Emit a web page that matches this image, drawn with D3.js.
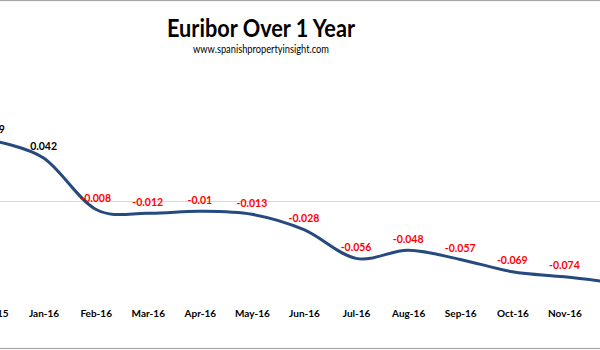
<!DOCTYPE html>
<html>
<head>
<meta charset="utf-8">
<script src="https://cdn.jsdelivr.net/npm/d3@7"></script>
<style>
  html, body { margin: 0; padding: 0; background: #fff; overflow: hidden; }
  svg { display: block; }
  text { font-family: Lato, "Open Sans", sans-serif; }
</style>
</head>
<body>
<svg id="chart" width="600" height="350"></svg>
<script>
const months = ["Dec-15","Jan-16","Feb-16","Mar-16","Apr-16","May-16","Jun-16","Jul-16","Aug-16","Sep-16","Oct-16","Nov-16","Dec-16"];
const euribor = [0.059, 0.042, -0.008, -0.012, -0.010, -0.013, -0.028, -0.056, -0.048, -0.057, -0.069, -0.074, -0.080];
const labels = ["0.059","0.042","-0.008","-0.012","-0.01","-0.013","-0.028","-0.056","-0.048","-0.057","-0.069","-0.074","-0.08"];
const title = "Euribor Over 1 Year";
const subtitle = "www.spanishpropertyinsight.com";

const W = 600, H = 350;
const svg = d3.select("#chart");

// chart border (wider than the visible window)
svg.append("rect").attr("x", -40).attr("y", 0.5).attr("width", W + 80).attr("height", H - 2)
  .attr("fill", "#fff").attr("stroke", "#a6a6a6").attr("stroke-width", 1.2);

const x = d3.scalePoint().domain(months).range([-8.5, 616.5]);
const y = d3.scaleLinear().domain([0, 0.1]).range([201, 201 - 102.5]);

// zero line
svg.append("line").attr("x1", -40).attr("x2", W + 40)
  .attr("y1", y(0) + 0.5).attr("y2", y(0) + 0.5)
  .attr("stroke", "#d9d9d9").attr("stroke-width", 1);

// category axis labels
const xAxis = d3.axisBottom(x).tickSize(0).tickPadding(0);
const gx = svg.append("g").attr("transform", "translate(0,310)").call(xAxis);
gx.select(".domain").remove();
gx.selectAll("text")
  .attr("dy", "0.71em")
  .style("font-family", "Lato, sans-serif")
  .style("font-size", "10px").style("font-weight", "bold").attr("fill", "#000");

// line
const line = d3.line()
  .x((d, i) => x(months[i]))
  .y(d => y(d))
  .curve(d3.curveCardinal.tension(0));
svg.append("path").datum(euribor)
  .attr("d", line).attr("fill", "none")
  .attr("stroke", "#264a7e").attr("stroke-width", 3).attr("stroke-linecap", "round");

// data labels
svg.append("g").selectAll("text").data(euribor).join("text")
  .attr("x", (d, i) => x(months[i]))
  .attr("y", d => y(d) - 7.5)
  .attr("text-anchor", "middle")
  .style("font-size", "10.5px").style("font-weight", "bold")
  .attr("fill", d => d < 0 ? "#ff0000" : "#000")
  .text((d, i) => labels[i]);

// titles
svg.append("text").attr("x", 261).attr("y", 37).attr("text-anchor", "middle")
  .attr("textLength", 188).attr("lengthAdjust", "spacingAndGlyphs")
  .style("font-size", "25px").style("font-weight", "bold").attr("fill", "#000").text(title);
svg.append("text").attr("x", 261).attr("y", 53).attr("text-anchor", "middle")
  .attr("textLength", 136).attr("lengthAdjust", "spacingAndGlyphs")
  .style("font-size", "11.5px").attr("fill", "#000").text(subtitle);
</script>
</body>
</html>
